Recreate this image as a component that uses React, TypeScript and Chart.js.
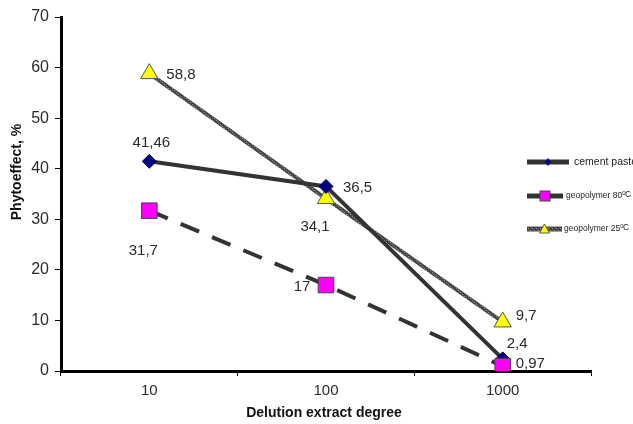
import React, { useEffect, useRef } from "react";
import { Chart, registerables } from "chart.js";

Chart.register(...registerables);

const categories = ["10", "100", "1000"];
const cementPaste = [41.46, 36.5, 2.4];
const geopolymer80 = [31.7, 17, 0.97];
const geopolymer25 = [58.8, 34.1, 9.7];
const yTicks = [0, 10, 20, 30, 40, 50, 60, 70];
const seriesNames = ["cement paste", "geopolymer 80", "geopolymer 25"];

// label placement (style only): dx, dy, align
const labelPlacement: Record<string, { dx: number; dy: number; align: CanvasTextAlign }[]> = {
  cement: [
    { dx: 2, dy: -18, align: "center" },
    { dx: 17, dy: 1, align: "left" },
    { dx: 4, dy: -15, align: "left" },
  ],
  geo80: [
    { dx: -6, dy: 40, align: "center" },
    { dx: -24, dy: 2, align: "center" },
    { dx: 13, dy: -2, align: "left" },
  ],
  geo25: [
    { dx: 17, dy: 1, align: "left" },
    { dx: -11, dy: 28, align: "center" },
    { dx: 13, dy: -6, align: "left" },
  ],
};

function makePattern(): CanvasPattern | string {
  const c = document.createElement("canvas");
  c.width = 4;
  c.height = 4;
  const g = c.getContext("2d");
  if (!g) return "#555";
  g.fillStyle = "#4e4e4e";
  g.fillRect(0, 0, 4, 4);
  g.fillStyle = "#8c8c8c";
  g.fillRect(0, 0, 1, 1);
  g.fillRect(2, 2, 1, 1);
  g.fillStyle = "#333";
  g.fillRect(1, 3, 1, 1);
  g.fillRect(3, 1, 1, 1);
  const p = g.createPattern(c, "repeat");
  return p || "#555";
}

export default function App() {
  const ref = useRef<HTMLCanvasElement | null>(null);

  useEffect(() => {
    document.body.style.margin = "0";
    const canvas = ref.current;
    if (!canvas) return;
    const pattern = makePattern();
    const fmt = (v: number) => String(v).replace(".", ",");
    const FONT = "'Liberation Sans', Arial, sans-serif";

    const labelsPlugin = {
      id: "pointLabels",
      afterDatasetsDraw(chart: any) {
        const ctx = chart.ctx;
        ctx.save();
        ctx.font = `15px ${FONT}`;
        ctx.fillStyle = "#2a2a2a";
        ctx.textBaseline = "middle";
        chart.data.datasets.forEach((ds: any, di: number) => {
          const meta = chart.getDatasetMeta(di);
          const place = labelPlacement[ds.key];
          meta.data.forEach((pt: any, i: number) => {
            const p = place[i];
            ctx.textAlign = p.align;
            ctx.fillText(fmt(ds.data[i]), pt.x + p.dx, pt.y + p.dy);
          });
        });
        ctx.restore();
      },
    };

    const decorPlugin = {
      id: "decor",
      afterDraw(chart: any) {
        const ctx = chart.ctx;
        ctx.save();
        // axis titles
        ctx.fillStyle = "#111";
        ctx.font = `bold 14px ${FONT}`;
        ctx.textAlign = "center";
        ctx.textBaseline = "middle";
        ctx.save();
        ctx.translate(17, 172);
        ctx.rotate(-Math.PI / 2);
        ctx.fillText("Phytoeffect, %", 0, 0);
        ctx.restore();
        ctx.font = `bold 14px ${FONT}`;
        ctx.fillText("Delution extract degree", 324, 413);

        // legend
        const items = [
          { y: 162, lineEnd: 569, textX: 574, size: 10.5, sup: false },
          { y: 196, lineEnd: 563, textX: 566, size: 8.5, sup: true },
          { y: 229, lineEnd: 562, textX: 564, size: 8.5, sup: true },
        ];
        items.forEach((it, idx) => {
          ctx.lineWidth = 5;
          ctx.lineCap = "butt";
          ctx.strokeStyle = idx === 2 ? pattern : "#333";
          ctx.beginPath();
          ctx.moveTo(527, it.y);
          ctx.lineTo(it.lineEnd, it.y);
          ctx.stroke();
          const cx = (527 + it.lineEnd) / 2;
          ctx.lineWidth = 1;
          if (idx === 0) {
            ctx.fillStyle = "#000080";
            ctx.beginPath();
            ctx.moveTo(cx, it.y - 4);
            ctx.lineTo(cx + 3, it.y);
            ctx.lineTo(cx, it.y + 4);
            ctx.lineTo(cx - 3, it.y);
            ctx.closePath();
            ctx.fill();
          } else if (idx === 1) {
            ctx.fillStyle = "#FF00FF";
            ctx.strokeStyle = "#444";
            ctx.fillRect(cx - 5, it.y - 5, 10, 10);
            ctx.strokeRect(cx - 5, it.y - 5, 10, 10);
          } else {
            ctx.fillStyle = "#FFFF00";
            ctx.strokeStyle = "#555";
            ctx.beginPath();
            ctx.moveTo(cx, it.y - 5);
            ctx.lineTo(cx + 5, it.y + 4);
            ctx.lineTo(cx - 5, it.y + 4);
            ctx.closePath();
            ctx.fill();
            ctx.stroke();
          }
          ctx.fillStyle = "#222";
          ctx.textAlign = "left";
          ctx.textBaseline = "middle";
          ctx.font = `${it.size}px ${FONT}`;
          const base = seriesNames[idx];
          ctx.fillText(base, it.textX, it.y);
          if (it.sup) {
            let x = it.textX + ctx.measureText(base).width;
            ctx.font = `6px ${FONT}`;
            ctx.fillText("0", x, it.y - 3);
            x += ctx.measureText("0").width - 0.5;
            ctx.font = `${it.size}px ${FONT}`;
            ctx.fillText("C", x, it.y - 1);
          }
        });
        ctx.restore();
      },
    };

    const chart = new Chart(canvas, {
      type: "line",
      data: {
        labels: categories,
        datasets: [
          {
            key: "cement",
            label: seriesNames[0],
            data: cementPaste,
            order: 1,
            borderColor: "#333",
            borderWidth: 4,
            pointStyle: "rectRot",
            pointRadius: 7,
            pointBackgroundColor: "#000080",
            pointBorderColor: "#000060",
            pointBorderWidth: 1,
            tension: 0,
          },
          {
            key: "geo80",
            label: seriesNames[1],
            data: geopolymer80,
            order: 0,
            borderColor: "#333",
            borderWidth: 4,
            borderDash: [20, 14],
            pointStyle: "rect",
            pointRadius: 11,
            pointBackgroundColor: "#FF00FF",
            pointBorderColor: "#444",
            pointBorderWidth: 1,
            tension: 0,
          },
          {
            key: "geo25",
            label: seriesNames[2],
            data: geopolymer25,
            order: 2,
            borderColor: pattern as any,
            borderWidth: 4,
            pointStyle: "triangle",
            pointRadius: 10,
            pointBackgroundColor: "#FFFF00",
            pointBorderColor: "#555",
            pointBorderWidth: 1,
            tension: 0,
          },
        ] as any,
      },
      options: {
        responsive: false,
        animation: false,
        layout: { padding: { top: 17, right: 42, left: 0, bottom: 0 } },
        plugins: { legend: { display: false }, tooltip: { enabled: false } },
        scales: {
          x: {
            type: "category",
            offset: true,
            grid: { offset: true, drawOnChartArea: false, tickLength: 5, color: "#000", lineWidth: 1 },
            border: { color: "#000", width: 3 },
            ticks: { color: "#2a2a2a", font: { size: 15, family: FONT }, padding: 6 },
            afterFit: (s: any) => {
              s.height = 53;
            },
          },
          y: {
            min: 0,
            max: 70,
            afterBuildTicks: (s: any) => {
              s.ticks = yTicks.map((v) => ({ value: v }));
            },
            grid: { drawOnChartArea: false, tickLength: 6, color: "#000", lineWidth: 1 },
            border: { color: "#000", width: 3 },
            ticks: { color: "#2a2a2a", font: { size: 16, family: FONT }, padding: 6 },
            afterFit: (s: any) => {
              s.width = 61;
            },
          },
        },
      },
      plugins: [labelsPlugin, decorPlugin],
    } as any);
    return () => chart.destroy();
  }, []);

  return (
    <div style={{ width: 633, height: 424, background: "#fff" }}>
      <canvas ref={ref} width={633} height={424} />
    </div>
  );
}
